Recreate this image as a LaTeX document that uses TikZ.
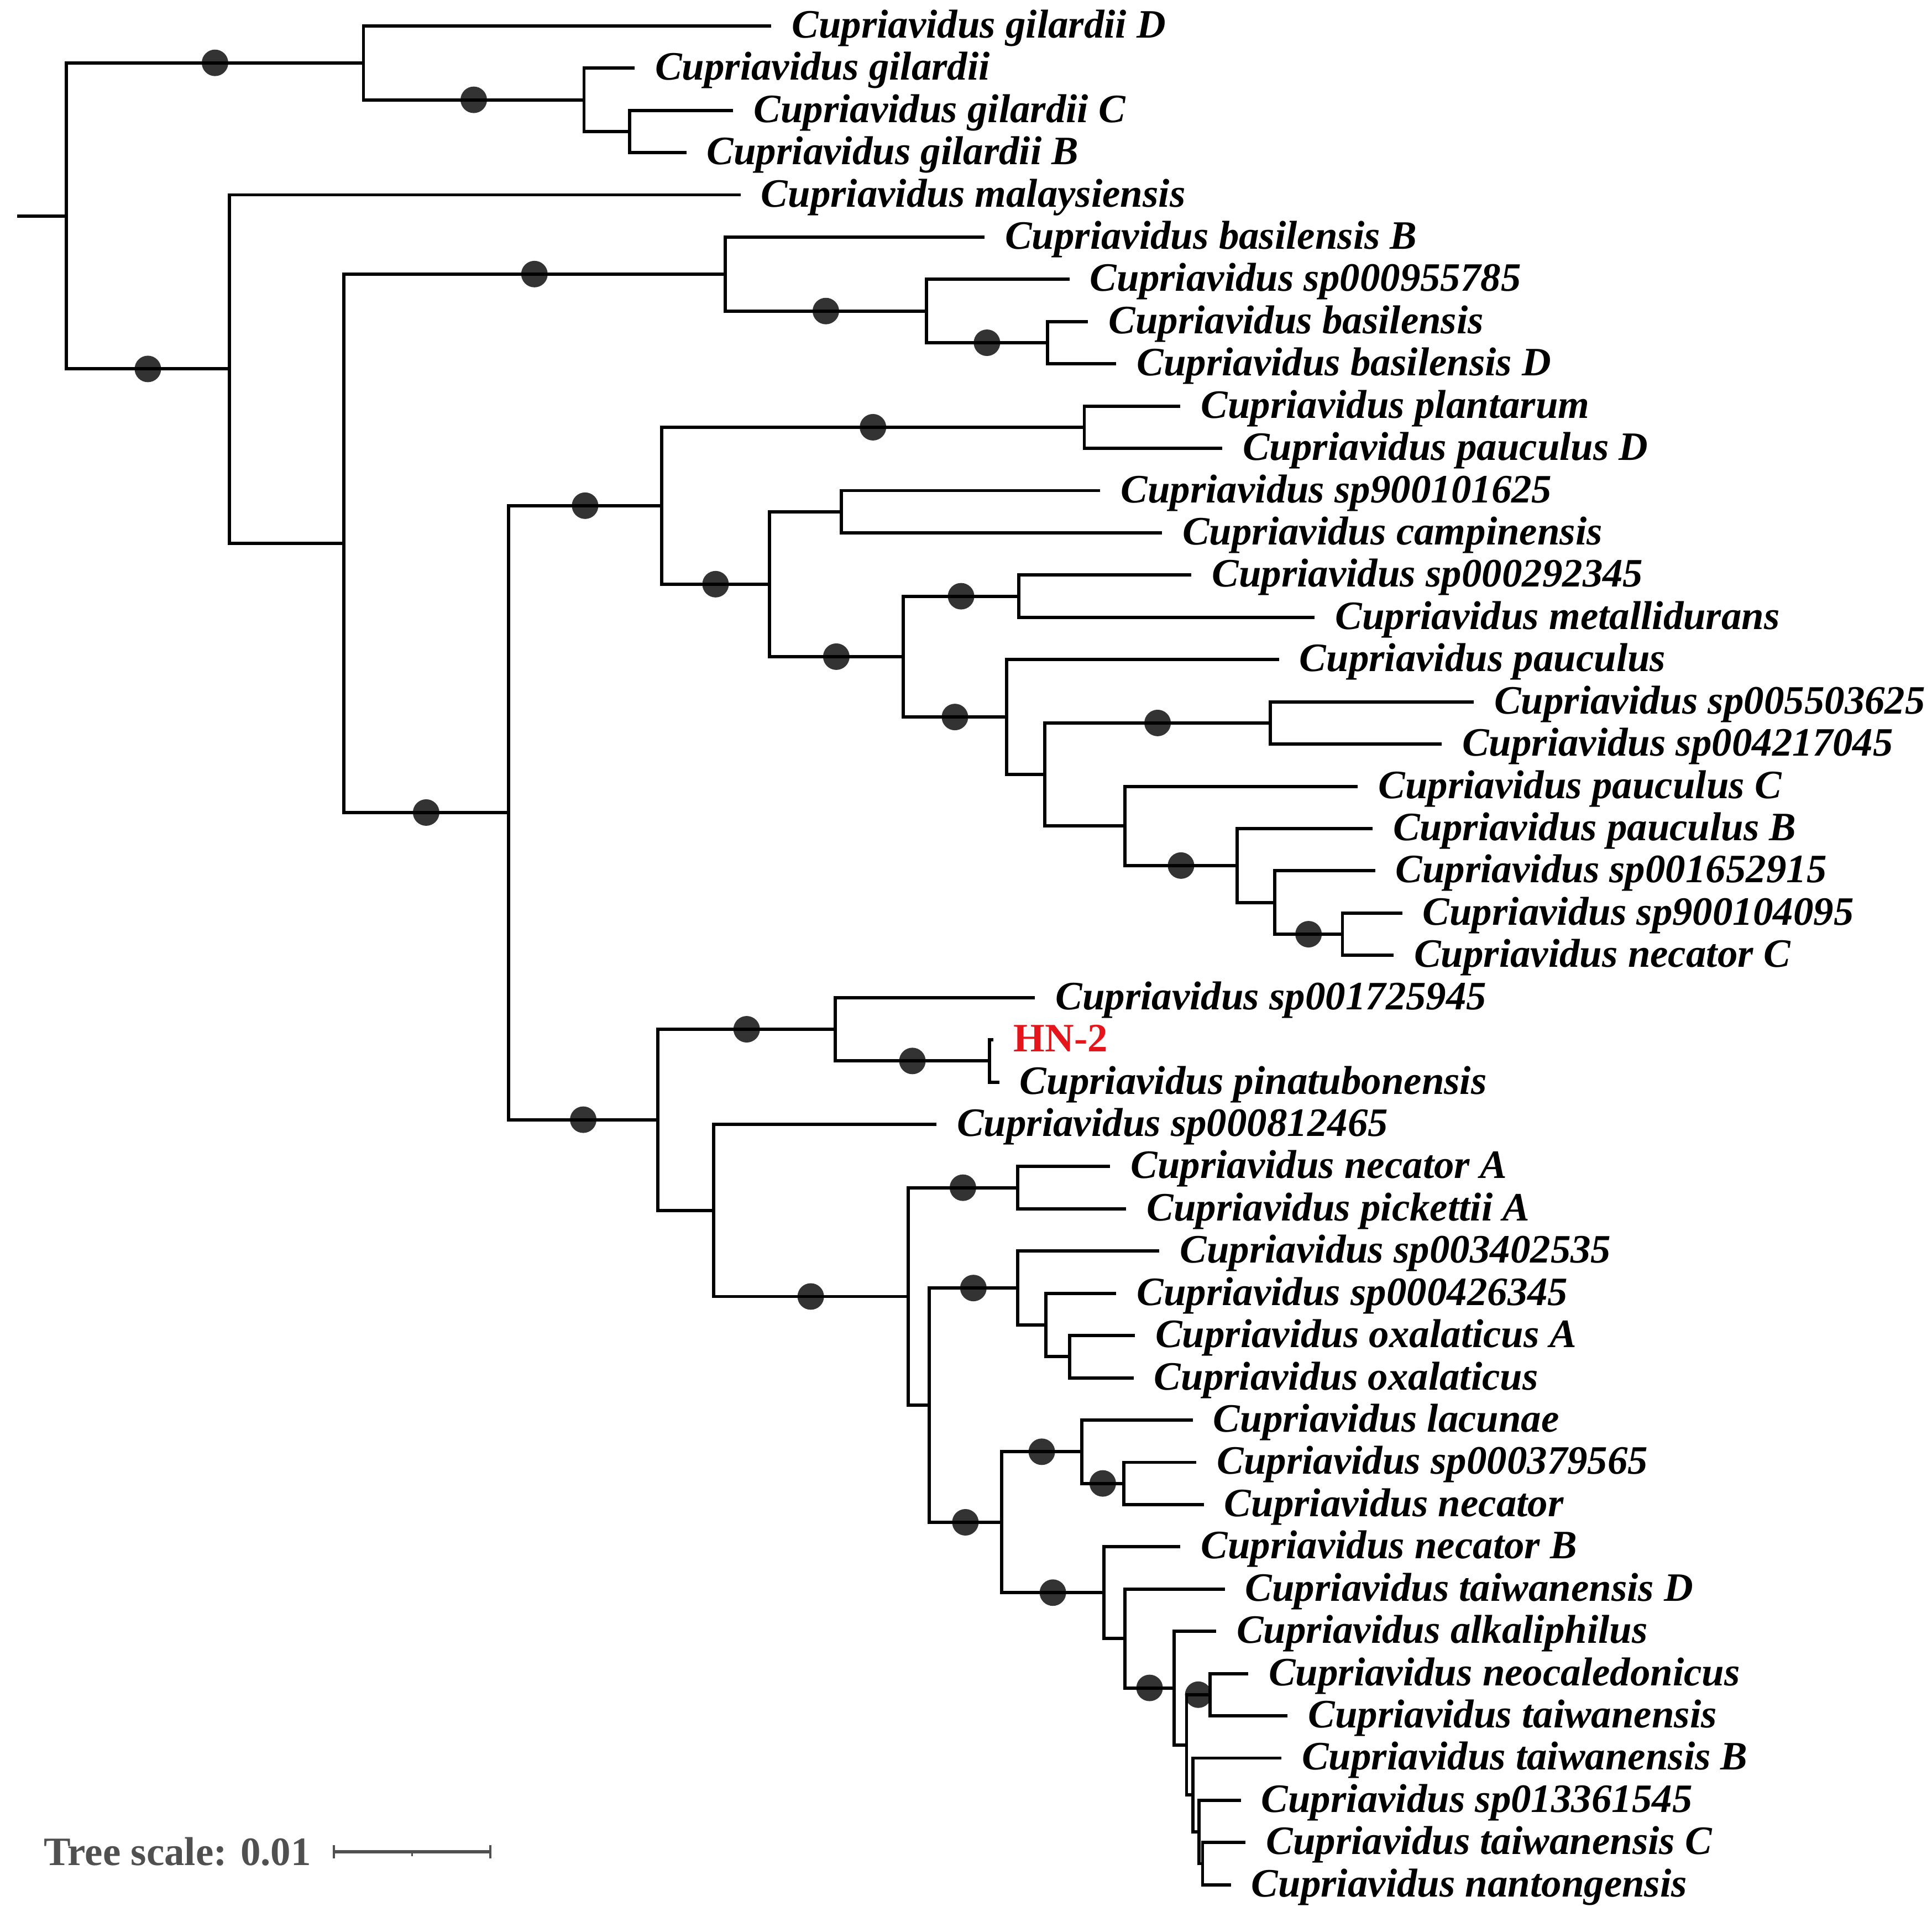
\documentclass[tikz,border=0pt]{standalone}
\usepackage{fontspec}
\setmainfont{Liberation Serif}
\definecolor{hnred}{RGB}{228,22,28}
\definecolor{scalegray}{RGB}{80,80,80}
\tikzset{
  branch/.style={line width=0.75pt},
  support/.style={circle,fill=black,fill opacity=0.8,inner sep=0pt,minimum size=0.215cm},
  leaf/.style={anchor=west,inner xsep=0.16cm,inner ysep=0pt,text height=6.8pt,text depth=1.32pt,
               font=\fontsize{9.3}{11}\selectfont\bfseries\itshape},
}

\begin{document}
\begin{tikzpicture}[x=0.01cm,y=-0.3427cm]
\useasboundingbox (0,0.387) rectangle (1568,45.76);

% leaves: row / end of branch / name
\foreach \n/\x/\t in {1/626/gilardii D, 2/515/gilardii, 3/595/gilardii C, 4/557/gilardii B,
                      5/601/malaysiensis, 6/799/basilensis B, 7/868/sp000955785, 8/883/basilensis,
                      9/906/basilensis D, 10/958/plantarum, 11/992/pauculus D, 12/893/sp900101625,
                      13/943/campinensis, 14/967/sp000292345, 15/1067/metallidurans, 16/1038/pauculus,
                      17/1196/sp005503625, 18/1170/sp004217045, 19/1102/pauculus C, 20/1114/pauculus B,
                      21/1116/sp001652915, 22/1138/sp900104095, 23/1131/necator C, 24/840/sp001725945,
                      26/811/pinatubonensis, 27/760/sp000812465, 28/901/necator A, 29/914/pickettii A,
                      30/941/sp003402535, 31/906/sp000426345, 32/921/oxalaticus A, 33/920/oxalaticus,
                      34/968/lacunae, 35/971/sp000379565, 36/977/necator, 37/958/necator B,
                      38/994/taiwanensis D, 39/987/alkaliphilus, 40/1013/neocaledonicus, 41/1045/taiwanensis,
                      42/1040/taiwanensis B, 43/1007/sp013361545, 44/1011/taiwanensis C, 45/999/nantongensis}
  \node[leaf] (l\n) at (\x,\n) {Cupriavidus \t};
\node[leaf,font=\fontsize{9.3}{11}\selectfont\bfseries,text=hnred] (l25) at (806,25) {HN-2};

% internal nodes
\coordinate (stub) at (14,5.5);
\coordinate (root) at (54,5.5);
\coordinate (A) at (295,1.875);   \coordinate (A2) at (474,2.75);   \coordinate (A3) at (511,3.5);
\coordinate (B) at (186,9.12);    \coordinate (C) at (279,13.25);
\coordinate (D) at (588.5,6.875); \coordinate (D2) at (752,7.75);   \coordinate (D3) at (850,8.5);
\coordinate (E) at (412.7,19.62);
\coordinate (F) at (537,12.357);  \coordinate (F1) at (880,10.5);
\coordinate (G) at (624.5,14.215);\coordinate (G1) at (683,12.5);
\coordinate (H) at (733,15.93);   \coordinate (H1) at (827,14.5);
\coordinate (I) at (817,17.359);  \coordinate (J) at (848,18.719);  \coordinate (J1) at (1031,17.5);
\coordinate (K) at (913,19.9375); \coordinate (K1) at (1004,20.875);
\coordinate (K2) at (1034.5,21.75); \coordinate (K3) at (1089.5,22.5);
\coordinate (L) at (534,26.89);   \coordinate (M) at (678,24.75);   \coordinate (M1) at (803,25.5);
\coordinate (N) at (579,29.04);   \coordinate (O) at (737,31.075);  \coordinate (O1) at (826,28.5);
\coordinate (P) at (754,33.65);   \coordinate (P1) at (826,30.875);
\coordinate (P2) at (849,31.75);  \coordinate (P3) at (868,32.5);
\coordinate (Q) at (813,36.42);   \coordinate (Q1) at (878,34.75);  \coordinate (Q2) at (912,35.5);
\coordinate (R) at (896,38.085);  \coordinate (R1) at (913,39.17);  \coordinate (S) at (953,40.34);
\coordinate (T) at (963,41.69);   \coordinate (T1) at (982,40.5);
\coordinate (U) at (968,42.875);  \coordinate (V) at (973,43.75);   \coordinate (W) at (976,44.5);

% branches
\draw[branch] (stub) -- (root);
\foreach \p/\c in {root/A, root/B, A/l1, A/A2, A2/l2, A2/A3, A3/l3, A3/l4, B/l5, B/C,
                   C/D, C/E, D/l6, D/D2, D2/l7, D2/D3, D3/l8, D3/l9,
                   E/F, E/L, F/F1, F/G, F1/l10, F1/l11, G/G1, G/H, G1/l12, G1/l13,
                   H/H1, H/I, H1/l14, H1/l15, I/l16, I/J, J/J1, J/K, J1/l17, J1/l18,
                   K/l19, K/K1, K1/l20, K1/K2, K2/l21, K2/K3, K3/l22, K3/l23,
                   L/M, L/N, M/l24, M/M1, M1/l25, M1/l26, N/l27, N/O, O/O1, O/P, O1/l28, O1/l29,
                   P/P1, P/Q, P1/l30, P1/P2, P2/l31, P2/P3, P3/l32, P3/l33,
                   Q/Q1, Q/R, Q1/l34, Q1/Q2, Q2/l35, Q2/l36, R/l37, R/R1, R1/l38, R1/S,
                   S/l39, S/T, T/T1, T/U, T1/l40, T1/l41, U/l42, U/V, V/l43, V/W, W/l44, W/l45}
  \draw[branch] (\p) |- (\c);

% support symbols, halfway along the branch
\foreach \p/\c in {root/A, A/A2, root/B, C/D, D/D2, D2/D3, C/E, E/F, F/F1, F/G,
                   G/H, H/H1, H/I, J/J1, K/K1, K2/K3, E/L, L/M, M/M1, N/O,
                   O/O1, P/P1, P/Q, Q/Q1, Q1/Q2, Q/R, R1/S, T/T1}
  \path (\p) |- (\c) node[support,pos=.75] {};

% scale
\node[anchor=west,inner sep=0pt,text=scalegray,font=\fontsize{9.3}{11}\selectfont\bfseries] (scl) at (35,44.22) {Tree scale: 0.01};
\coordinate (sbL) at (271,44.22);
\coordinate (sbM) at (334.5,44.22);
\coordinate (sbR) at (398,44.22);
\draw[scalegray,line width=0.7pt] (sbL) -- (sbR);
\draw[scalegray,line width=0.6pt] ([yshift=0.055cm]sbL) -- ([yshift=-0.055cm]sbL);
\draw[scalegray,line width=0.6pt] ([yshift=0.055cm]sbR) -- ([yshift=-0.055cm]sbR);
\draw[scalegray,line width=0.4pt] (sbM) -- ([yshift=-0.035cm]sbM);

\end{tikzpicture}
\end{document}
